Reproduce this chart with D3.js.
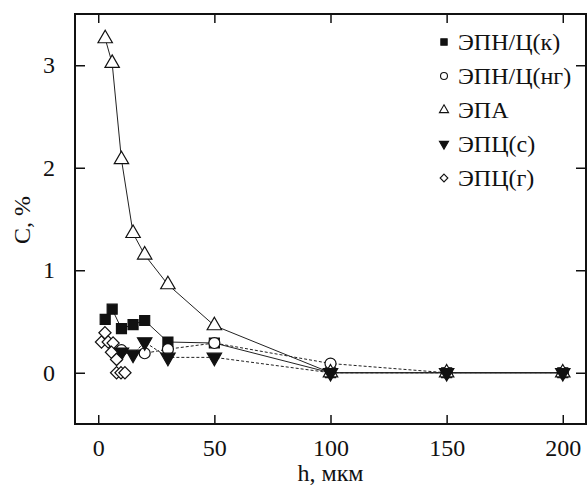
<!DOCTYPE html>
<html>
<head>
<meta charset="utf-8">
<script src="https://cdnjs.cloudflare.com/ajax/libs/d3/7.8.5/d3.min.js"></script>
<style>
    body { margin: 0; background: #fff; }
    svg { display: block; }
    svg text { font-family: "Liberation Serif", "Times New Roman", "DejaVu Serif", serif !important; fill: #111; }
</style>
</head>
<body>
<div id="chart"></div>
<script>
// h, мкм
var epnKH = [3, 6, 10, 15, 20, 30, 50, 100, 150, 200];
var epnK = [0.52, 0.62, 0.43, 0.47, 0.51, 0.30, 0.29, 0, 0, 0];

var epnNgH = [10, 20, 30, 50, 100, 150, 200];
var epnNg = [0.22, 0.19, 0.23, 0.29, 0.09, 0, 0];

var epaH = [3, 6, 10, 15, 20, 30, 50, 100, 150, 200];
var epa = [3.26, 3.02, 2.08, 1.36, 1.15, 0.86, 0.46, 0, 0, 0];

var epcSH = [10, 15, 20, 30, 50, 100, 150, 200];
var epcS = [0.20, 0.18, 0.30, 0.15, 0.15, 0, 0, 0];

var epcGH = [1.4, 2.9, 4.3, 6.4, 5.7, 7.9, 7.9, 9.8, 11.5];
var epcG = [0.30, 0.39, 0.30, 0.29, 0.20, 0.13, 0, 0, 0];

var seriesNames = ["ЭПН/Ц(к)", "ЭПН/Ц(нг)", "ЭПА", "ЭПЦ(с)", "ЭПЦ(г)"];

var xTicks = [0, 50, 100, 150, 200];
var yTicks = [0, 1, 2, 3];

var width = 587, height = 488;
var plotLeft = 75, plotRight = 586, plotTop = 14, plotBottom = 424;
var serif = "'Liberation Serif', 'Times New Roman', serif";

var svg = d3.select("#chart").append("svg").attr("width", width).attr("height", height);

var x = d3.scaleLinear().domain([-10, 210]).range([plotLeft, plotRight]);
var y = d3.scaleLinear().domain([-0.5, 3.5]).range([plotBottom, plotTop]);

function zip(xs, ys) {
    return xs.map(function (v, i) { return [v, ys[i]]; });
}

var series = [
    { name: seriesNames[0], data: zip(epnKH, epnK), symbol: d3.symbolSquare, size: 100, fill: "#111", dash: null, line: true },
    { name: seriesNames[1], data: zip(epnNgH, epnNg), symbol: d3.symbolCircle, size: 95, fill: "#fff", dash: "3,2", line: true },
    { name: seriesNames[2], data: zip(epaH, epa), symbol: d3.symbolTriangle, size: 90, fill: "#fff", dash: null, line: true },
    { name: seriesNames[3], data: zip(epcSH, epcS), symbol: "down", size: 90, fill: "#111", dash: "3,2", line: true },
    { name: seriesNames[4], data: zip(epcGH, epcG), symbol: d3.symbolDiamond2, size: 95, fill: "#fff", dash: null, line: false }
];

function symbolPath(s, size) {
    if (s === "down") return d3.symbol().type(d3.symbolTriangle).size(size)();
    return d3.symbol().type(s).size(size)();
}

// lines
var line = d3.line().x(function (d) { return x(d[0]); }).y(function (d) { return y(d[1]); });
series.forEach(function (s) {
    if (!s.line) return;
    svg.append("path")
        .attr("d", line(s.data))
        .attr("fill", "none")
        .attr("stroke", "#222")
        .attr("stroke-width", 1)
        .attr("stroke-dasharray", s.dash);
});

// markers
series.forEach(function (s) {
    var path = symbolPath(s.symbol, s.size);
    svg.append("g").selectAll("path").data(s.data).enter().append("path")
        .attr("d", path)
        .attr("transform", function (d) {
            var t = "translate(" + x(d[0]) + "," + y(d[1]) + ")";
            if (s.symbol === "down") t += " rotate(180)";
            return t;
        })
        .attr("fill", s.fill)
        .attr("stroke", "#111")
        .attr("stroke-width", 1.2);
});

function styleAxis(g) {
    g.attr("font-family", serif).attr("font-size", 24);
    g.select(".domain").remove();
    g.selectAll(".tick line").attr("stroke", "#111").attr("stroke-width", 1.5);
    g.selectAll(".tick text").attr("fill", "#111").style("font-family", serif);
}

// axes: ticks inside on all four sides
svg.append("g").attr("transform", "translate(0," + plotBottom + ")")
    .call(d3.axisBottom(x).tickValues(xTicks).tickSize(-9).tickPadding(15))
    .call(styleAxis);
svg.append("g").attr("transform", "translate(0," + plotTop + ")")
    .call(d3.axisTop(x).tickValues(xTicks).tickSize(-9).tickFormat(""))
    .call(styleAxis);
svg.append("g").attr("transform", "translate(" + plotLeft + ",0)")
    .call(d3.axisLeft(y).tickValues(yTicks).tickSize(-10).tickPadding(20).tickFormat(d3.format("d")))
    .call(styleAxis);
svg.append("g").attr("transform", "translate(" + plotRight + ",0)")
    .call(d3.axisRight(y).tickValues(yTicks).tickSize(-10).tickFormat(""))
    .call(styleAxis);

svg.append("rect")
    .attr("x", plotLeft).attr("y", plotTop)
    .attr("width", plotRight - plotLeft).attr("height", plotBottom - plotTop)
    .attr("fill", "none").attr("stroke", "#111").attr("stroke-width", 2);

// axis titles
svg.append("text")
    .attr("x", (plotLeft + plotRight) / 2).attr("y", 481)
    .attr("text-anchor", "middle")
    .style("font-family", serif)
    .style("font-size", "24px")
    .text("h, мкм");
svg.append("text")
    .attr("transform", "translate(30,220) rotate(-90)")
    .attr("text-anchor", "middle")
    .style("font-family", serif)
    .style("font-size", "24px")
    .text("C, %");

// legend
var legend = svg.append("g").selectAll("g").data(series).enter().append("g")
    .attr("transform", function (d, i) { return "translate(444," + (42 + i * 34) + ")"; });
legend.append("path")
    .attr("d", function (d) { return symbolPath(d.symbol, d.size * 0.4); })
    .attr("transform", function (d) { return d.symbol === "down" ? "rotate(180)" : null; })
    .attr("fill", function (d) { return d.fill; })
    .attr("stroke", "#111")
    .attr("stroke-width", 1.1);
legend.append("text")
    .attr("x", 14).attr("dy", "0.35em")
    .style("font-family", serif)
    .style("font-size", "24px")
    .text(function (d) { return d.name; });
</script>
</body>
</html>
